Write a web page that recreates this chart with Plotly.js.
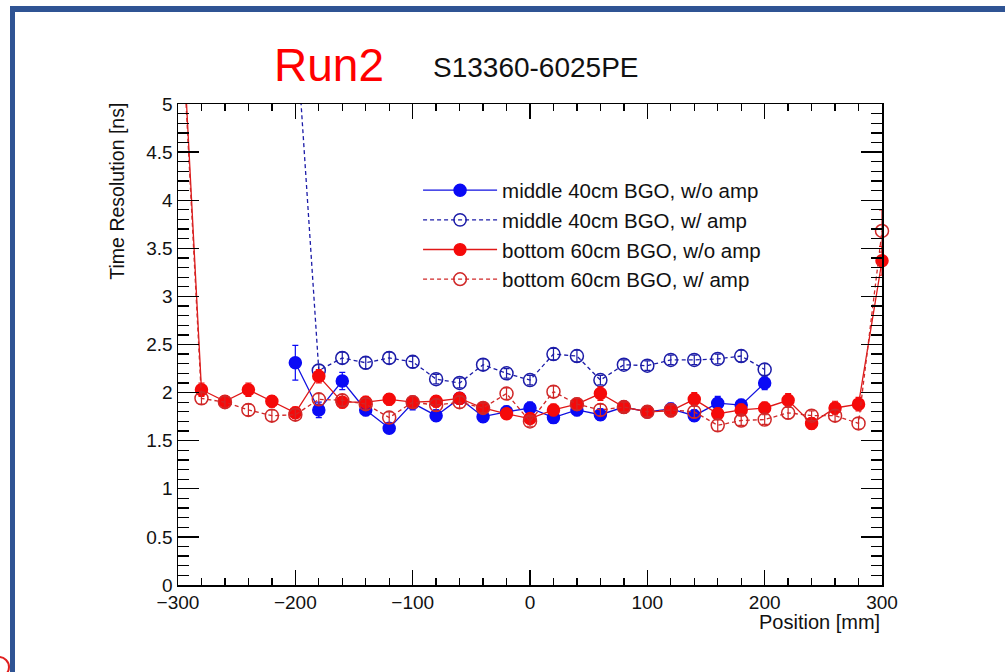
<!DOCTYPE html>
<html>
<head>
<meta charset="utf-8">
<script src="https://cdn.plot.ly/plotly-3.0.1.min.js"></script>
<style>
  html, body { margin: 0; padding: 0; background: #ffffff; overflow: hidden; }
  #wrap { position: relative; width: 1005px; height: 672px; }
  #topbar { position: absolute; left: 10px; top: 6px; width: 995px; height: 6px; background: #2f5494; }
  #leftbar { position: absolute; left: 10px; top: 6px; width: 5px; height: 666px; background: #2f5494; }
  #corner { position: absolute; left: -12px; top: 656px; width: 18px; height: 18px; border: 2px solid #e02020; border-radius: 50%; }
  #chart { position: absolute; left: 0; top: 0; width: 1005px; height: 672px; }
</style>
</head>
<body>
<div id="wrap">
  <div id="topbar"></div>
  <div id="leftbar"></div>
  <div id="corner"></div>
  <div id="chart"></div>
</div>
<script>
// ---- data ----
const posMiddle = [-200,-180,-160,-140,-120,-100,-80,-60,-40,-20,0,20,40,60,80,100,120,140,160,180,200];
const posBottom = [-300,-280,-260,-240,-220,-200,-180,-160,-140,-120,-100,-80,-60,-40,-20,0,20,40,60,80,100,120,140,160,180,200,220,240,260,280,300];

// middle 40cm BGO, w/o amp
const middleNoAmp    = [2.31,1.82,2.12,1.82,1.63,1.89,1.76,1.94,1.75,1.80,1.84,1.74,1.82,1.77,1.85,1.80,1.83,1.76,1.89,1.87,2.10];
const middleNoAmpErr = [0.18,0.08,0.09,0.06,0.05,0.07,0.06,0.05,0.06,0.06,0.06,0.06,0.06,0.06,0.06,0.06,0.06,0.06,0.07,0.06,0.07];
// middle 40cm BGO, w/ amp
const middleAmp      = [5.90,2.23,2.36,2.31,2.36,2.32,2.14,2.10,2.29,2.20,2.13,2.40,2.38,2.13,2.29,2.28,2.34,2.34,2.35,2.38,2.24];
const middleAmpErr   = [0.10,0.06,0.06,0.06,0.06,0.06,0.05,0.05,0.06,0.05,0.05,0.06,0.06,0.05,0.05,0.05,0.05,0.05,0.05,0.06,0.06];
// bottom 60cm BGO, w/o amp
const bottomNoAmp    = [6.70,2.03,1.91,2.03,1.91,1.79,2.17,1.90,1.90,1.93,1.90,1.91,1.94,1.84,1.78,1.73,1.82,1.88,1.99,1.85,1.80,1.81,1.93,1.78,1.82,1.84,1.92,1.68,1.84,1.88,3.37];
const bottomNoAmpErr = [0.20,0.07,0.06,0.07,0.06,0.06,0.07,0.06,0.06,0.06,0.06,0.06,0.06,0.05,0.05,0.05,0.06,0.06,0.07,0.06,0.06,0.06,0.07,0.06,0.06,0.06,0.07,0.06,0.07,0.07,0.15];
// bottom 60cm BGO, w/ amp
const bottomAmp      = [6.60,1.94,1.90,1.82,1.76,1.77,1.93,1.92,1.88,1.74,1.90,1.87,1.90,1.84,1.99,1.70,2.01,1.88,1.82,1.85,1.80,1.82,1.80,1.66,1.71,1.72,1.79,1.76,1.76,1.68,3.68];
const bottomAmpErr   = [0.20,0.06,0.06,0.06,0.06,0.06,0.06,0.06,0.06,0.06,0.06,0.06,0.06,0.05,0.06,0.05,0.06,0.06,0.06,0.05,0.05,0.05,0.06,0.06,0.05,0.05,0.06,0.05,0.06,0.06,0.22];

const xTickVals = [-300,-200,-100,0,100,200,300];
const yTickVals = [0,0.5,1,1.5,2,2.5,3,3.5,4,4.5,5];
const yMax = 5;

const FONT = 'Liberation Sans, Arial, Helvetica, sans-serif';

// hide markers/errors of points that lie above the frame (lines still run to them)
function sizes(vals, s) { return vals.map(v => v > yMax ? 0 : s); }
function errs(vals, e) { return vals.map((v, i) => v > yMax ? 0 : e[i]); }

function trace(name, x, y, e, color, lineColor, dash, symbol, msize, group) {
  return {
    type: 'scatter', mode: 'lines+markers', name: name, x: x, y: y,
    legendgroup: group, cliponaxis: false,
    line: { color: lineColor, width: 1.3, dash: dash },
    marker: { color: color, symbol: symbol, size: sizes(y, msize), opacity: 1, sizemode: 'diameter',
              line: { color: color, width: 1.5 } },
    error_y: { type: 'data', array: errs(y, e), visible: true, color: color, thickness: 1.2, width: 3 }
  };
}

const data = [
  trace('middle 40cm BGO, w/o amp', posMiddle, middleNoAmp, middleNoAmpErr, '#0a0af5', '#1010e0', 'solid', 'circle', 12, 'a'),
  trace('middle 40cm BGO, w/ amp',  posMiddle, middleAmp,   middleAmpErr,   '#1c1ca8', '#1c1ca8', '4px,3px', 'circle-open', 13, 'b'),
  trace('bottom 60cm BGO, w/o amp', posBottom, bottomNoAmp, bottomNoAmpErr, '#f50a0a', '#e01818', 'solid', 'circle', 12, 'c'),
  trace('bottom 60cm BGO, w/ amp',  posBottom, bottomAmp,   bottomAmpErr,   '#d02828', '#d02828', '4px,3px', 'circle-open', 13, 'd')
];

const layout = {
  width: 1005, height: 672,
  margin: { l: 178, r: 123, t: 104, b: 87, pad: 0 },
  paper_bgcolor: 'rgba(0,0,0,0)', plot_bgcolor: '#ffffff',
  font: { family: FONT, size: 20, color: '#111' },
  showlegend: true,
  legend: {
    x: 0.341, y: 0.862, xanchor: 'left', yanchor: 'top',
    bgcolor: 'rgba(0,0,0,0)', borderwidth: 0,
    font: { family: FONT, size: 20.5, color: '#111' },
    tracegroupgap: 0, itemwidth: 74
  },
  xaxis: {
    range: [-300, 300], tickmode: 'array', tickvals: xTickVals,
    ticks: 'inside', ticklen: 15, tickwidth: 1.3, tickcolor: '#000',
    minor: { dtick: 20, tick0: 0, ticks: 'inside', ticklen: 7, tickwidth: 1.3, tickcolor: '#000', showgrid: false },
    showline: true, linecolor: '#000', linewidth: 1.5, mirror: 'ticks',
    showgrid: false, zeroline: false,
    tickfont: { family: FONT, size: 19, color: '#111' }
  },
  yaxis: {
    range: [0, 5], tickmode: 'array', tickvals: yTickVals,
    ticks: 'inside', ticklen: 21, tickwidth: 1.3, tickcolor: '#000',
    minor: { dtick: 0.1, tick0: 0, ticks: 'inside', ticklen: 11, tickwidth: 1.3, tickcolor: '#000', showgrid: false },
    showline: true, linecolor: '#000', linewidth: 1.5, mirror: 'ticks',
    showgrid: false, zeroline: false,
    tickfont: { family: FONT, size: 19, color: '#111' }
  },
  annotations: [
    { text: 'Run2', xref: 'paper', yref: 'paper', x: 0.2145, y: 1.081, xanchor: 'center', yanchor: 'middle',
      showarrow: false, font: { family: FONT, size: 46, color: '#ff0000' } },
    { text: 'S13360-6025PE', xref: 'paper', yref: 'paper', x: 0.5085, y: 1.075, xanchor: 'center', yanchor: 'middle',
      showarrow: false, font: { family: FONT, size: 28, color: '#111' } },
    { text: 'Time Resolution [ns]', xref: 'paper', yref: 'paper', x: -0.0866, y: 1.006, xanchor: 'center', yanchor: 'top',
      textangle: -90, showarrow: false, font: { family: FONT, size: 19.5, color: '#111' } },
    { text: 'Position [mm]', xref: 'paper', yref: 'paper', x: 1.0, y: -0.076, xanchor: 'right', yanchor: 'middle',
      showarrow: false, font: { family: FONT, size: 20, color: '#111' } }
  ]
};

Plotly.newPlot('chart', data, layout, { displayModeBar: false, staticPlot: true });
</script>
</body>
</html>
